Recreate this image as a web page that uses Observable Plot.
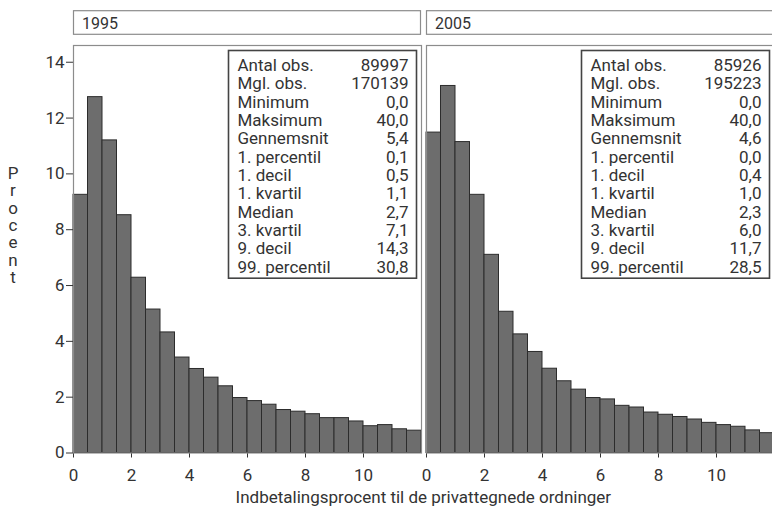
<!DOCTYPE html>
<html>
<head>
<meta charset="utf-8">
<script src="https://cdn.jsdelivr.net/npm/d3@7"></script>
<script src="https://cdn.jsdelivr.net/npm/@observablehq/plot@0.6"></script>
<style>
  html, body { margin: 0; padding: 0; background: #fff; }
  svg text { font-family: Roboto, "Noto Sans", sans-serif; }
</style>
</head>
<body>
<div id="chart"></div>
<script>
// Distribution of contribution rates (0.5-point bins), share of observations in percent
const years = ["1995", "2005"];
const binStart = [0, 0.5, 1, 1.5, 2, 2.5, 3, 3.5, 4, 4.5, 5, 5.5, 6, 6.5, 7, 7.5, 8, 8.5, 9, 9.5, 10, 10.5, 11, 11.5];
const binWidth = 0.5;
const pct1995 = [9.25, 12.75, 11.2, 8.52, 6.28, 5.14, 4.32, 3.42, 3.01, 2.70, 2.39, 1.97, 1.86, 1.73, 1.54, 1.48, 1.39, 1.25, 1.25, 1.13, 0.96, 1.0, 0.85, 0.80];
const pct2005 = [11.48, 13.15, 11.14, 9.25, 7.10, 5.06, 4.25, 3.62, 3.02, 2.57, 2.27, 1.97, 1.92, 1.69, 1.63, 1.45, 1.37, 1.29, 1.20, 1.08, 1.00, 0.94, 0.81, 0.71];

// Summary statistics shown in each panel
const statLabels = ["Antal obs.", "Mgl. obs.", "Minimum", "Maksimum", "Gennemsnit", "1. percentil", "1. decil", "1. kvartil", "Median", "3. kvartil", "9. decil", "99. percentil"];
const stats1995 = ["89997", "170139", "0,0", "40,0", "5,4", "0,1", "0,5", "1,1", "2,7", "7,1", "14,3", "30,8"];
const stats2005 = ["85926", "195223", "0,0", "40,0", "4,6", "0,0", "0,4", "1,0", "2,3", "6,0", "11,7", "28,5"];

const xTicks = [0, 2, 4, 6, 8, 10];
const yTicks = [0, 2, 4, 6, 8, 10, 12, 14];
const xTitle = "Indbetalingsprocent til de privattegnede ordninger";
const yTitle = "Procent";

// Tables for the marks
const seriesByYear = {"1995": pct1995, "2005": pct2005};
const statsByYear = {"1995": stats1995, "2005": stats2005};
const rows = years.flatMap(yr => binStart.map((x, i) => ({year: yr, x1: x, x2: x + binWidth, pct: seriesByYear[yr][i]})));
const statRows = years.map(yr => ({year: yr, labels: statLabels.join("\n"), values: statsByYear[yr].join("\n")}));

// Layout
const W = 772, H = 511;
const M = {top: 45, right: -2, bottom: 58.5, left: 72.7};
const gap = 0.015;
const bandW = (W - M.left - M.right) / (2 - gap) * (1 - gap);
const innerH = H - M.top - M.bottom;
const fs = 17;
const lh = 18.35;

const chart = Plot.plot({
  width: W,
  height: H,
  marginTop: M.top,
  marginRight: M.right,
  marginBottom: M.bottom,
  marginLeft: M.left,
  style: {fontFamily: "Roboto, 'Noto Sans', sans-serif", fontSize: fs + "px", color: "#333", background: "#fff", overflow: "visible"},
  fx: {domain: years, axis: null, paddingInner: gap, paddingOuter: 0, label: null},
  x: {domain: [0, 12], ticks: xTicks, tickSize: 5, tickPadding: 11, label: null},
  y: {domain: [0, 14.6], ticks: yTicks, tickSize: 7, tickPadding: 2, label: null},
  marks: [
    Plot.rectY(rows, {fx: "year", x1: "x1", x2: "x2", y: "pct", fill: "#6d6d6d", stroke: "#2c2c2c", strokeWidth: 1}),
    Plot.frame({stroke: "#8c8c8c", strokeWidth: 1.2}),
    Plot.frame({fill: "#fff", stroke: "#444", strokeWidth: 1.6, insetTop: 5, insetRight: 5, insetLeft: bandW - 193, insetBottom: innerH - 232.7}),
    Plot.text(statRows, {fx: "year", text: "labels", frameAnchor: "top-right", textAnchor: "start", lineAnchor: "top", dx: -184, dy: 12.3, lineHeight: lh / fs, fill: "#333"}),
    Plot.text(statRows, {fx: "year", text: "values", frameAnchor: "top-right", textAnchor: "end", lineAnchor: "top", dx: -13, dy: 12.3, lineHeight: lh / fs, fill: "#333"})
  ]
});

document.getElementById("chart").append(chart);

// Strip headers above each panel, placed with the facet scale
const fx = chart.scale("fx");
const svg = d3.select(chart);
for (const yr of years) {
  const x0 = fx.apply(yr);
  const g = svg.append("g");
  g.append("rect")
    .attr("x", x0 + 0.5).attr("y", 10.7)
    .attr("width", fx.bandwidth - 1).attr("height", 23.6)
    .attr("fill", "#fff").attr("stroke", "#8c8c8c").attr("stroke-width", 1.2);
  g.append("text")
    .attr("x", x0 + 9).attr("y", 28.8)
    .attr("text-anchor", "start")
    .attr("font-size", 16).attr("fill", "#333")
    .text(yr);
}

// Axis titles
const left = M.left, right = W - M.right;
svg.append("text")
  .attr("x", (left + right) / 2).attr("y", 503)
  .attr("text-anchor", "middle").attr("font-size", fs).attr("fill", "#333")
  .text(xTitle);

// Vertical title with upright stacked letters
svg.append("text")
  .attr("x", 13).attr("y", 163)
  .attr("text-anchor", "start").attr("font-size", fs).attr("fill", "#333")
  .style("writing-mode", "vertical-rl")
  .style("text-orientation", "upright")
  .style("letter-spacing", "-2.7px")
  .text(yTitle);
</script>
</body>
</html>
